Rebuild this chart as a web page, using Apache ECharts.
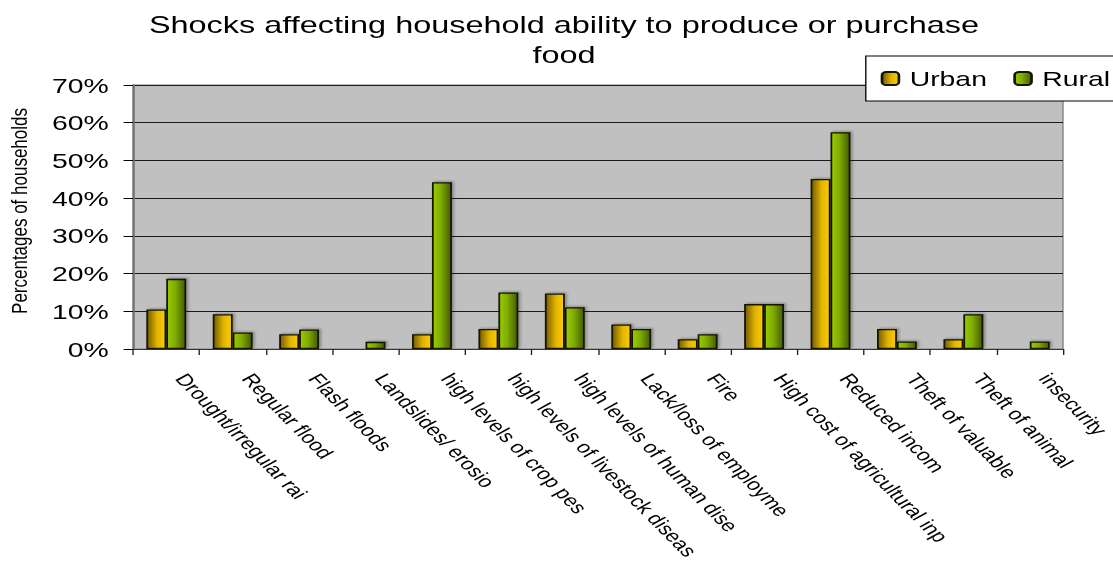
<!DOCTYPE html>
<html>
<head>
<meta charset="utf-8">
<title>Shocks affecting household ability to produce or purchase food</title>
<script src="https://cdn.jsdelivr.net/npm/echarts@6/dist/echarts.min.js"></script>
<style>
  html, body { margin: 0; padding: 0; background: #fff; overflow: hidden; }
  #wrap { width: 1113px; height: 567px; overflow: hidden; }
  /* drawn in a narrower frame, then widened to the page width */
  #chart { width: 824px; height: 567px; transform: scaleX(1.3507); transform-origin: 0 0; }
</style>
</head>
<body>
<div id="wrap"><div id="chart"></div></div>
<script>
// Shock categories (full names) and the text shown under each bar pair
const categories = [
  'Drought/irregular rain', 'Regular floods', 'Flash floods', 'Landslides/ erosion',
  'high levels of crop pests', 'high levels of livestock diseases', 'high levels of human diseases',
  'Lack/loss of employment', 'Fire', 'High cost of agricultural inputs', 'Reduced income',
  'Theft of valuables', 'Theft of animals', 'insecurity'
];
const tickLabels = [
  'Drought/irregular rai', 'Regular flood', 'Flash floods', 'Landslides/ erosio',
  'high levels of crop pes', 'high levels of livestock diseas', 'high levels of human dise',
  'Lack/loss of employme', 'Fire', 'High cost of agricultural inp', 'Reduced incom',
  'Theft of valuable', 'Theft of animal', 'insecurity'
];

// Percentage of households reporting each shock
const urban = [10.5, 9.2, 3.9, 0, 3.9, 5.3, 14.7, 6.5, 2.6, 11.9, 45.1, 5.3, 2.6, 0];
const rural = [18.6, 4.4, 5.2, 1.9, 44.2, 15.0, 11.1, 5.3, 3.9, 11.9, 57.5, 2.0, 9.2, 2.0];

const yTicks = [0, 10, 20, 30, 40, 50, 60, 70];

const FONT = '"Liberation Sans", Arial, Helvetica, sans-serif';

const urbanFill = new echarts.graphic.LinearGradient(0, 0, 1, 0, [
  { offset: 0, color: '#745c00' },
  { offset: 0.55, color: '#e0b400' },
  { offset: 1, color: '#ffcc00' }
]);
const ruralFill = new echarts.graphic.LinearGradient(0, 0, 1, 0, [
  { offset: 0, color: '#99cc00' },
  { offset: 0.45, color: '#7fab00' },
  { offset: 1, color: '#435c00' }
]);

const barStyle = (fill) => ({
  color: fill,
  borderColor: '#141400',
  borderWidth: 1.3,
  shadowColor: 'rgba(0,0,0,0.3)',
  shadowBlur: 2,
  shadowOffsetX: 1.5,
  shadowOffsetY: -1
});

const chart = echarts.init(document.getElementById('chart'), null, { renderer: 'svg' });

chart.setOption({
  animation: false,
  backgroundColor: '#ffffff',
  title: {
    text: 'Shocks affecting household ability to produce or purchase\nfood',
    left: 417.5,
    textAlign: 'center',
    top: 10,
    padding: 0,
    textStyle: { fontFamily: FONT, fontSize: 24, fontWeight: 'normal', color: '#000', lineHeight: 30 }
  },
  legend: {
    data: ['Urban', 'Rural'],
    orient: 'horizontal',
    left: 641,
    top: 56,
    width: 220,
    padding: [12, 3, 12, 11],
    itemGap: 19.5,
    itemWidth: 12.5,
    itemHeight: 13,
    backgroundColor: '#ffffff',
    borderColor: '#000',
    borderWidth: 1,
    textStyle: { fontFamily: FONT, fontSize: 21, color: '#000', padding: [0, 0, 0, 3] }
  },
  grid: {
    left: 98.5,
    width: 688.5,
    top: 85,
    height: 264,
    outerBoundsMode: 'none',
    containLabel: false,
    show: true,
    backgroundColor: '#c0c0c0',
    borderColor: '#808080',
    borderWidth: 1
  },
  xAxis: {
    type: 'category',
    data: categories,
    axisLine: { lineStyle: { color: '#333', width: 1 } },
    axisTick: { show: true, length: 6, lineStyle: { color: '#222' } },
    axisLabel: {
      interval: 0,
      rotate: -53.5,
      margin: 12,
      padding: [0, 0, 0, 18],
      fontFamily: FONT,
      fontSize: 17,
      color: '#000',
      formatter: (v, i) => tickLabels[i]
    }
  },
  yAxis: {
    type: 'value',
    min: yTicks[0],
    max: yTicks[yTicks.length - 1],
    interval: 10,
    name: 'Percentages of households',
    nameLocation: 'middle',
    nameGap: 76,
    nameTextStyle: { fontFamily: FONT, fontSize: 17, color: '#000', padding: [0, 0, 0, 12] },
    axisLine: { show: true, lineStyle: { color: '#707070', width: 1.5 } },
    axisTick: { show: true, length: 7, lineStyle: { color: '#000' } },
    axisLabel: {
      margin: 18,
      fontFamily: FONT,
      fontSize: 21,
      color: '#000',
      formatter: '{value}%'
    },
    splitLine: { show: true, lineStyle: { color: '#1a1a1a', width: 1 } }
  },
  series: [
    {
      name: 'Urban',
      type: 'bar',
      data: urban,
      barWidth: '30%',
      barGap: '0%',
      itemStyle: barStyle(urbanFill)
    },
    {
      name: 'Rural',
      type: 'bar',
      data: rural,
      barWidth: '30%',
      barGap: '0%',
      itemStyle: barStyle(ruralFill)
    }
  ]
});
</script>
</body>
</html>
